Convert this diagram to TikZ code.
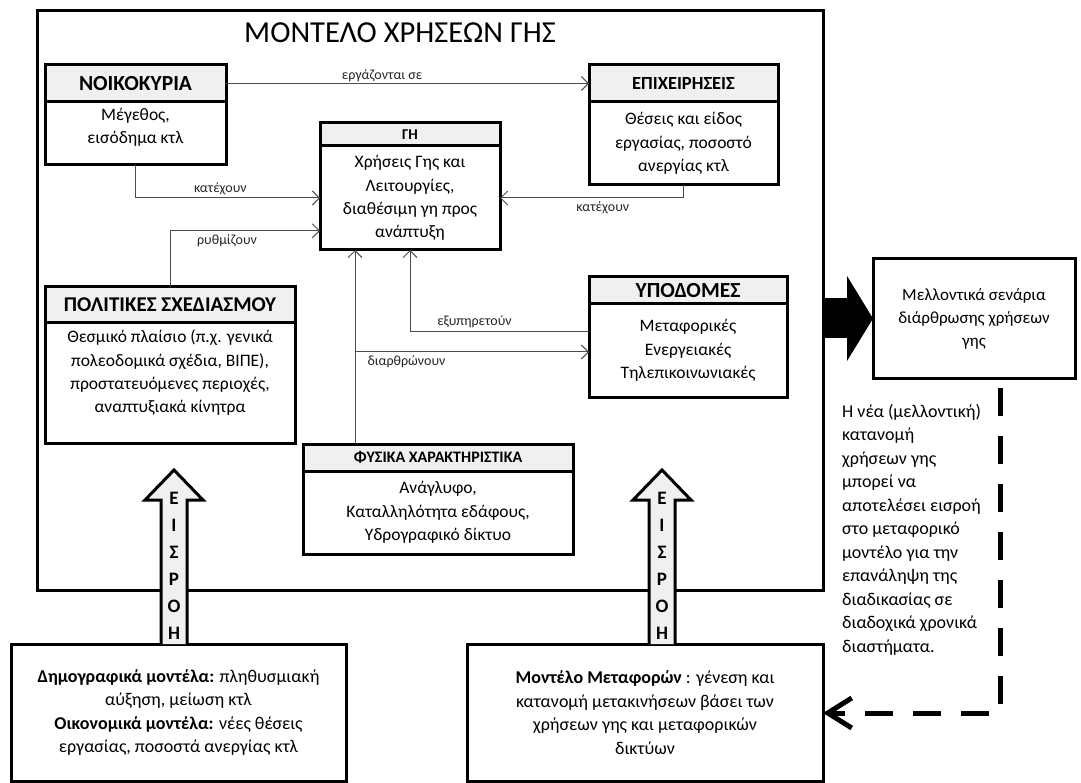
\documentclass[tikz,border=0pt]{standalone}
\usepackage{fontspec}
\setmainfont{Carlito}
\usepackage{tikz}
\usetikzlibrary{arrows.meta,positioning}

\tikzset{
  hdr/.style={draw, line width=3pt, fill=gray!12, outer sep=0pt, inner sep=0pt, font=\bfseries\fontsize{19}{23}\selectfont},
  bdy/.style={draw, line width=3pt, outer sep=0pt, inner sep=0pt, align=center, font=\fontsize{17.5}{23.3}\selectfont},
  plainbox/.style={draw, line width=3pt, outer sep=0pt, inner sep=0pt, align=center, font=\fontsize{18}{23.5}\selectfont},
  conn/.style={line width=1pt, draw=black!70, -{Straight Barb[length=7pt,width=14pt]}},
  lbl/.style={font=\fontsize{14}{16}\selectfont, text=black!85, inner sep=3pt},
  eis/.style={draw, line width=3pt, fill=gray!12, line join=miter},
  eistxt/.style={font=\bfseries\fontsize{19}{27}\selectfont, align=center, inner sep=0pt},
}

\newcommand{\eisroharrow}[1]{%
  \draw[eis] (#1) ++(-13,0) -- ++(0,-144) -- ++(-16,0) -- ++(29,-30) -- ++(29,30) -- ++(-16,0) -- ++(0,144);
  \path (#1) ++(0,-78.5) node[eistxt] {Ε\\Ι\\Σ\\Ρ\\Ο\\Η};}

\begin{document}
\begin{tikzpicture}[x=1pt, y=-1pt]
    \useasboundingbox (0,0) rectangle (1081,783);

    \node[draw, line width=3pt, outer sep=0pt, minimum width=786pt, minimum height=579pt] (model) at (430,300.5) {};
    \node[font=\fontsize{30.5}{34}\selectfont] (title) at (400,33) {ΜΟΝΤΕΛΟ ΧΡΗΣΕΩΝ ΓΗΣ};

    % boxes inside the model
    \node[hdr, minimum width=181pt, minimum height=37pt, font=\bfseries\fontsize{21.5}{24}\selectfont] (noik) at (135.5,83.5) {ΝΟΙΚΟΚΥΡΙΑ};
    \node[bdy, minimum width=181pt, minimum height=63pt, below=0pt of noik] (noikb) {Μέγεθος,\\εισόδημα κτλ\\[-8pt]\mbox{}};

    \node[hdr, minimum width=189pt, minimum height=37pt, font=\bfseries\fontsize{18.5}{22}\selectfont] (epix) at (683.5,83.5) {ΕΠΙΧΕΙΡΗΣΕΙΣ};
    \node[bdy, minimum width=189pt, minimum height=83pt, below=0pt of epix] (epixb) {Θέσεις και είδος\\εργασίας, ποσοστό\\ανεργίας κτλ};

    \node[hdr, minimum width=180pt, minimum height=23pt, font=\bfseries\fontsize{15}{18}\selectfont] (ge) at (410,134.5) {ΓΗ};
    \node[bdy, minimum width=180pt, minimum height=104pt, below=0pt of ge] (geb) {Χρήσεις Γης και\\Λειτουργίες,\\διαθέσιμη γη προς\\ανάπτυξη};

    \node[hdr, minimum width=250pt, minimum height=36pt, font=\bfseries\fontsize{21}{24}\selectfont] (polh) at (170,305) {ΠΟΛΙΤΙΚΕΣ ΣΧΕΔΙΑΣΜΟΥ};
    \node[bdy, minimum width=250pt, minimum height=120pt, below=0pt of polh] (polb) {Θεσμικό πλαίσιο (π.χ. γενικά\\πολεοδομικά σχέδια, ΒΙΠΕ),\\προστατευόμενες περιοχές,\\αναπτυξιακά κίνητρα\\ \mbox{}};

    \node[hdr, minimum width=198pt, minimum height=27pt, font=\bfseries\fontsize{21.5}{24}\selectfont] (yp) at (688,290.5) {ΥΠΟΔΟΜΕΣ};
    \node[bdy, minimum width=198pt, minimum height=93pt, below=0pt of yp] (ypb) {Μεταφορικές\\Ενεργειακές\\Τηλεπικοινωνιακές};

    \node[hdr, minimum width=270pt, minimum height=27pt, font=\bfseries\fontsize{16}{19}\selectfont] (fysh) at (438,457.5) {ΦΥΣΙΚΑ ΧΑΡΑΚΤΗΡΙΣΤΙΚΑ};
    \node[bdy, minimum width=270pt, minimum height=83pt, below=0pt of fysh] (fysb) {Ανάγλυφο,\\Καταλληλότητα εδάφους,\\Υδρογραφικό δίκτυο};

    % connectors
    \draw[conn] (noik.east) -- node[lbl, above, inner sep=1pt, pos=0.43] {εργάζονται σε} (epix.west);
    \draw[conn] (noikb.south) |- node[lbl, above, pos=0.73] {κατέχουν} (geb.west);
    \draw[conn] (epixb.south) |- node[lbl, below, pos=0.72] {κατέχουν} (geb.east);
    \draw[conn] (polh.north) |- node[lbl, below, pos=0.69] {ρυθμίζουν} (geb.200);
    \draw[conn] (ypb.169) -| node[lbl, above, pos=0.32] {εξυπηρετούν} (geb.south);
    \coordinate (dj) at (355,352);
    \draw[conn] (fysh.north -| dj) -- (geb.south -| dj);
    \draw[conn] (dj) -- node[lbl, below, pos=0.22] {διαρθρώνουν} (ypb.west |- dj);

    % outside the model
    \node[plainbox, minimum width=202pt, minimum height=119pt, font=\fontsize{17}{23}\selectfont] (fut) at (974,318.5) {Μελλοντικά σενάρια\\διάρθρωσης χρήσεων\\γης};
    \node[anchor=north west, align=left, inner sep=0pt, font=\fontsize{18}{23.5}\selectfont] (note) at (842,404) {Η νέα (μελλοντική)\\κατανομή\\χρήσεων γης\\μπορεί να\\αποτελέσει εισροή\\στο μεταφορικό\\μοντέλο για την\\επανάληψη της\\διαδικασίας σε\\διαδοχικά χρονικά\\διαστήματα.};

    \node[plainbox, minimum width=335pt, minimum height=137pt] (dem) at (178.5,712.5) {\textbf{Δημογραφικά μοντέλα:} πληθυσμιακή\\αύξηση, μείωση κτλ\\\textbf{Οικονομικά μοντέλα:} νέες θέσεις\\εργασίας, ποσοστά ανεργίας κτλ};
    \node[plainbox, minimum width=356pt, minimum height=137pt] (trans) at (645,712.5) {\textbf{Μοντέλο Μεταφορών} : γένεση και\\κατανομή μετακινήσεων βάσει των\\χρήσεων γης και μεταφορικών\\δικτύων};

    \draw[line width=40pt, -{Triangle[length=26pt,width=84pt]}] (model.east |- fut) -- (fut.west);
    \coordinate (fb) at (1000,713);
    \draw[line width=5pt, dash pattern=on 28pt off 20pt, shorten <=10pt, -{Straight Barb[length=24pt,width=30pt]}] (fut.south -| fb) -- (fb) -- (trans.east |- fb);

    \coordinate (in1) at (174,0);
    \coordinate (in2) at (662,0);
    \eisroharrow{dem.north -| in1}
    \eisroharrow{trans.north -| in2}
\end{tikzpicture}
\end{document}
